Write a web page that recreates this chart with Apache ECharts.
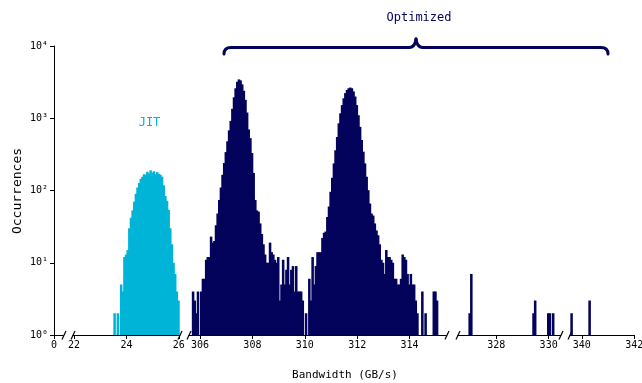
<!DOCTYPE html>
<html>
<head>
<meta charset="utf-8">
<script src="https://cdn.jsdelivr.net/npm/echarts@6/dist/echarts.min.js"></script>
<style>
  html, body { margin: 0; padding: 0; background: #fff; }
  #chart { width: 642px; height: 383px; }
</style>
</head>
<body>
<div id="chart"></div>
<script>
// histogram bins (GB/s), counts
const binWidth = 0.0625;

const jitStart = 23.5;
const jitCounts = [
  2, 0, 2, 0, 5, 4, 12, 13, 15, 30,
  42, 53, 70, 90, 110, 127, 145, 155, 168, 165,
  182, 172, 190, 176, 185, 168, 180, 170, 165, 155,
  118, 84, 72, 54, 30, 18, 10, 7, 4, 3
];

const optStart = 305.5;
const optCounts = [
  0, 0, 0, 4, 3, 2, 4, 0, 4, 6,
  6, 11, 12, 12, 23, 19, 20, 33, 48, 74,
  110, 165, 240, 340, 480, 680, 920, 1350, 1950, 2600,
  3200, 3450, 3350, 2950, 2400, 1800, 1200, 700, 530, 330,
  175, 74, 53, 51, 35, 25, 18, 13, 10, 10,
  19, 14, 13, 11, 10, 12, 3, 5, 11, 5,
  8, 12, 5, 8, 9, 4, 9, 4, 4, 4,
  3, 0, 2, 0, 6, 3, 12, 5, 9, 14,
  14, 14, 22, 26, 27, 43, 60, 96, 150, 237,
  360, 550, 850, 1170, 1520, 1890, 2230, 2460, 2600, 2660,
  2600, 2350, 2000, 1520, 1100, 760, 500, 345, 237, 155,
  101, 66, 48, 45, 35, 28, 24, 18, 11, 10,
  7, 15, 12, 12, 11, 10, 6, 6, 5, 5,
  6, 13, 12, 11, 7, 5, 7, 5, 5, 3,
  2, 0, 0, 4, 0, 2, 0, 0, 0, 0,
  4, 4, 3, 0
];

// stray optimized runs far out on the right: [bin start, count]
const optOutliers = [
  [326.9375, 2], [327.0, 7],
  [329.375, 2], [329.4375, 3],
  [329.9375, 2], [330.0, 2], [330.125, 2],
  [339.5625, 2], [340.25, 3]
];

// broken x axis: one grid per piece
const segRanges = [[0, 0.35], [21.96, 26.04], [305.58, 315.4], [326.54, 330.46], [339.55, 342]];
const segTicks = [[0], [22, 24, 26], [306, 308, 310, 312, 314], [328, 330], [340, 342]];
const segLeft = [54, 73, 189, 458, 570];
const pxPerUnit = 26.2;

const yTicks = [1, 10, 100, 1000, 10000];
const sup = ['⁰', '¹', '²', '³', '⁴'];

const JIT_COLOR = '#00b4d8';
const OPT_COLOR = '#03035c';
const FONT = 'DejaVu Sans Mono';

function toBins(start, counts) {
  const out = [];
  counts.forEach((c, i) => {
    if (c > 1) out.push([start + i * binWidth, c]);
  });
  return out;
}

const jitData = toBins(jitStart, jitCounts);
const optData = toBins(optStart, optCounts).concat(optOutliers);

function binRenderer(color) {
  return function (params, api) {
    const x = api.value(0);
    const c = api.value(1);
    const top = api.coord([x, c]);
    const base = api.coord([x + binWidth, 1]);
    return {
      type: 'rect',
      shape: { x: top[0], y: top[1], width: base[0] - top[0] + 0.9, height: base[1] - top[1] },
      style: { fill: color }
    };
  };
}

const chart = echarts.init(document.getElementById('chart'), null, { renderer: 'canvas' });

const grids = segRanges.map((r, i) => ({
  left: segLeft[i],
  width: (r[1] - r[0]) * pxPerUnit,
  top: 46,
  bottom: 48,
  outerBoundsMode: 'none'
}));

const xAxes = segRanges.map((r, i) => ({
  type: 'value',
  gridIndex: i,
  min: r[0],
  max: r[1],
  axisLine: { show: true, onZero: false, lineStyle: { color: '#000', width: 1 } },
  axisTick: { show: true, length: 4, customValues: segTicks[i], lineStyle: { color: '#000' } },
  axisLabel: { customValues: segTicks[i], fontFamily: FONT, fontSize: 10, color: '#000', margin: 5 },
  splitLine: { show: false }
}));

const yAxes = segRanges.map((r, i) => i === 0 ? {
  type: 'log',
  logBase: 10,
  gridIndex: 0,
  min: yTicks[0],
  max: yTicks[yTicks.length - 1],
  axisLine: { show: true, lineStyle: { color: '#000', width: 1 } },
  axisTick: { show: true, length: 4, lineStyle: { color: '#000' } },
  minorTick: { show: false },
  axisLabel: {
    fontFamily: FONT, fontSize: 10, color: '#000', margin: 6,
    formatter: v => '10' + sup[Math.round(Math.log10(v))]
  },
  splitLine: { show: false }
} : {
  type: 'log', logBase: 10, gridIndex: i,
  min: yTicks[0], max: yTicks[yTicks.length - 1], show: false
});

const series = [{
  type: 'custom',
  name: 'JIT',
  xAxisIndex: 1,
  yAxisIndex: 1,
  renderItem: binRenderer(JIT_COLOR),
  data: jitData
}];
[2, 3, 4].forEach(i => {
  const r = segRanges[i];
  series.push({
    type: 'custom',
    name: 'Optimized',
    xAxisIndex: i,
    yAxisIndex: i,
    renderItem: binRenderer(OPT_COLOR),
    data: optData.filter(d => d[0] >= r[0] - binWidth && d[0] <= r[1])
  });
});

// "//" marks where the axis is cut
const breakMarks = [64, 73, 180, 189, 447, 458, 561, 570];
const graphics = breakMarks.map(x => ({
  type: 'line',
  shape: { x1: x - 2, y1: 339.5, x2: x + 2, y2: 331 },
  style: { stroke: '#000', lineWidth: 1.2 }
}));

// curly brace over the optimized peaks
const braceStyle = { stroke: OPT_COLOR, lineWidth: 3, fill: null, lineCap: 'round' };
const braceY = 47.5;
graphics.push(
  { type: 'bezierCurve', shape: { x1: 224, y1: 54, cpx1: 224, cpy1: braceY, x2: 231, y2: braceY }, style: braceStyle },
  { type: 'line', shape: { x1: 231, y1: braceY, x2: 409, y2: braceY }, style: braceStyle },
  { type: 'bezierCurve', shape: { x1: 409, y1: braceY, cpx1: 415, cpy1: braceY, x2: 416, y2: 39 }, style: braceStyle },
  { type: 'bezierCurve', shape: { x1: 416, y1: 39, cpx1: 417, cpy1: braceY, x2: 423, y2: braceY }, style: braceStyle },
  { type: 'line', shape: { x1: 423, y1: braceY, x2: 601, y2: braceY }, style: braceStyle },
  { type: 'bezierCurve', shape: { x1: 601, y1: braceY, cpx1: 608, cpy1: braceY, x2: 608, y2: 54 }, style: braceStyle }
);

graphics.push(
  {
    type: 'text',
    style: { text: 'Optimized', x: 419, y: 18, textAlign: 'center', textVerticalAlign: 'middle', font: '12px "DejaVu Sans Mono"', fill: OPT_COLOR }
  },
  {
    type: 'text',
    style: { text: 'JIT', x: 149.5, y: 123, textAlign: 'center', textVerticalAlign: 'middle', font: '12px "DejaVu Sans Mono"', fill: JIT_COLOR }
  },
  {
    type: 'text',
    style: { text: 'Bandwidth (GB/s)', x: 345, y: 375, textAlign: 'center', textVerticalAlign: 'middle', font: '11px "DejaVu Sans Mono"', fill: '#000' }
  },
  {
    type: 'text',
    x: 18,
    y: 191,
    rotation: Math.PI / 2,
    style: { text: 'Occurrences', x: 0, y: 0, textAlign: 'center', textVerticalAlign: 'middle', font: '13px "DejaVu Sans Mono"', fill: '#000' }
  }
);

chart.setOption({
  animation: false,
  backgroundColor: '#fff',
  grid: grids,
  xAxis: xAxes,
  yAxis: yAxes,
  series: series,
  graphic: graphics
});

window.addEventListener('resize', () => chart.resize());
</script>
</body>
</html>
